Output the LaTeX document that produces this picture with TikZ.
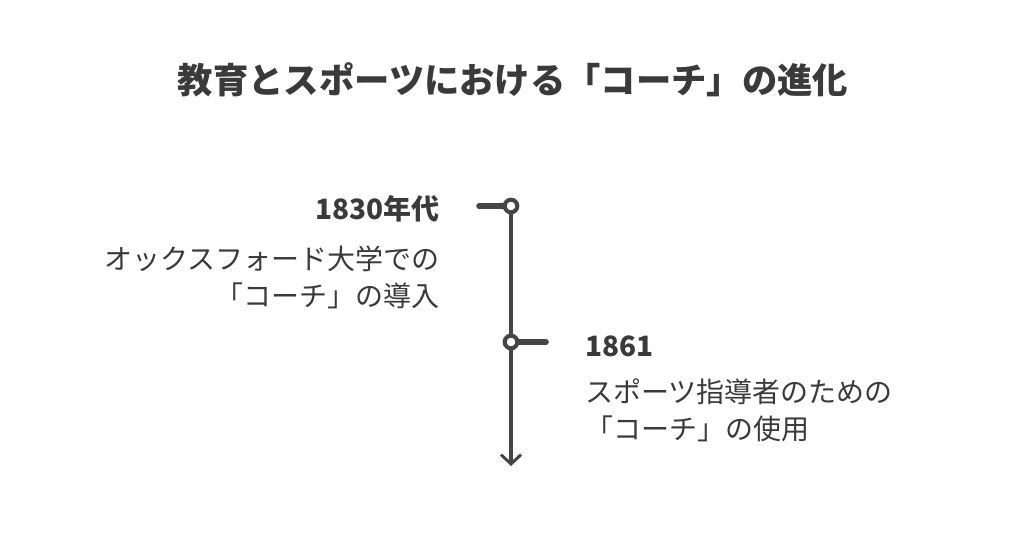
\documentclass[tikz,border=0pt]{standalone}
\usepackage{fontspec}
\setmainfont{Noto Sans CJK JP}
\usepackage{xcolor}
\usetikzlibrary{arrows.meta,positioning}
\definecolor{ink}{HTML}{3A3A3A}
\definecolor{rail}{HTML}{454545}

\tikzset{
  heading/.style={font=\fontsize{26.5}{30}\selectfont\bfseries, text=ink, inner sep=0pt},
  yearlabel/.style={font=\fontsize{21}{24}\selectfont\bfseries, text=ink, inner sep=0pt},
  desclabel/.style={font=\fontsize{21}{27.75}\selectfont, text=ink, inner sep=0pt},
  dot/.style={circle, draw=rail, line width=3pt, fill=white, minimum size=9.5pt, inner sep=0pt},
  tick/.style={draw=rail, line width=4.2pt, line cap=round},
}

\begin{document}
\begin{tikzpicture}[x=0.75pt, y=-0.75pt]
\useasboundingbox[fill=white] (0,0) rectangle (1024,539);

% title
\node[heading] (title) at (513,80) {教育とスポーツにおける「コーチ」の進化};

% timeline rail
\coordinate (railtop) at (511,206);
\coordinate (railend) at (511,466);
\draw[rail, line width=2.4pt, -{Straight Barb[length=7pt, width=15pt, line width=2.2pt]}] (railtop) -- (railend);

% 1830s
\coordinate (tickA) at (479,206);
\draw[tick] (tickA) -- (railtop);
\node[dot] (dotA) at (railtop) {};
\node[yearlabel, anchor=east] (yearA) at (440,209) {1830年代};
\node[desclabel, anchor=east, align=right] (descA) at (440,277.5) {オックスフォード大学での\\「コーチ」の導入};

% 1861
\coordinate (railmid) at (511,342);
\coordinate (tickB) at (546,342);
\draw[tick] (railmid) -- (tickB);
\node[dot] (dotB) at (railmid) {};
\node[yearlabel, anchor=west] (yearB) at (585,346) {1861};
\node[desclabel, anchor=west, align=left] (descB) at (585,410.5) {スポーツ指導者のための\\「コーチ」の使用};
\end{tikzpicture}
\end{document}
